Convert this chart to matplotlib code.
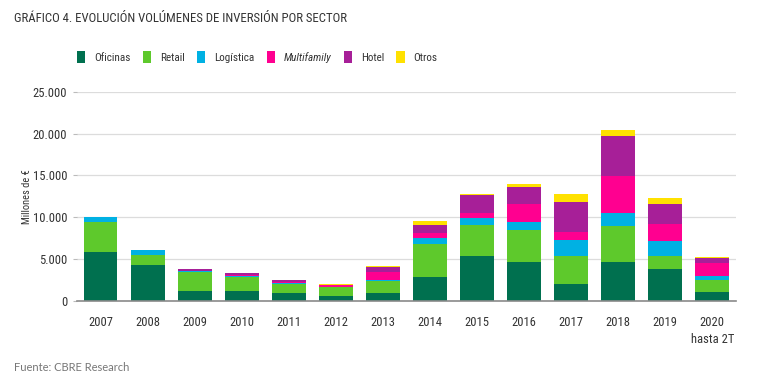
import matplotlib
matplotlib.use("Agg")
import matplotlib.pyplot as plt
from matplotlib.patches import Patch
from matplotlib.ticker import FuncFormatter
from matplotlib import font_manager as fm
import numpy as np

years = ["2007", "2008", "2009", "2010", "2011", "2012", "2013",
         "2014", "2015", "2016", "2017", "2018", "2019", "2020\nhasta 2T"]
oficinas    = [5820, 4230, 1120, 1120,  880,  600,  880, 2830, 5380, 4630, 1950, 4630, 3790, 1040]
retail      = [3630, 1200, 2310, 1670, 1080, 1000, 1430, 3990, 3710, 3870, 3390, 4350, 1590, 1430]
logistica   = [ 560,  640,  120,  200,  160,   80,  160,  720,  800,  960, 1910, 1550, 1720,  520]
multifamily = [   0,    0,   50,   60,   60,  150, 1000,  520,  560, 2150,  960, 4390, 2110, 1560]
hotel       = [   0,    0,  150,  300,  300,  100,  560, 1040, 2230, 1950, 3590, 4820, 2350,  520]
otros       = [   0,    0,    0,    0,    0,  100,  120,  400,  120,  400, 1000,  680,  760,  120]

series = [
    ("Oficinas", oficinas, "#00704f"),
    ("Retail", retail, "#5ec92c"),
    ("Logística", logistica, "#00b1e3"),
    ("Multifamily", multifamily, "#ff0090"),
    ("Hotel", hotel, "#a71f98"),
    ("Otros", otros, "#ffe100"),
]


def find_font(keys, style="normal"):
    files = [f.fname for f in fm.fontManager.ttflist]
    bad = ["bold", "light", "thin", "black", "medium", "semi", "extra"]
    for k in keys:
        for fn in sorted(files):
            low = fn.split("/")[-1].lower()
            if k.lower() in low:
                if any(b in low for b in bad):
                    continue
                if style == "normal" and "italic" in low:
                    continue
                if style == "italic" and "italic" not in low and "oblique" not in low:
                    continue
                return fn
    return None


cond_file = find_font(["RobotoCondensed-Regular", "RobotoCondensed", "NotoSans-Condensed",
                       "NotoSans_Condensed", "OpenSans_Condensed", "OpenSans-Condensed",
                       "LiberationSansNarrow", "DejaVuSansCondensed"])
cond_ifile = find_font(["RobotoCondensed-Italic", "RobotoCondensed", "NotoSans-CondensedItalic",
                        "NotoSans_Condensed", "OpenSans_Condensed", "LiberationSansNarrow",
                        "DejaVuSansCondensed"], style="italic")


def fp(size, italic=False):
    if italic and cond_ifile:
        return fm.FontProperties(fname=cond_ifile, size=size)
    if cond_file:
        p = fm.FontProperties(fname=cond_file, size=size)
        if italic:
            p.set_style("italic")
        return p
    return fm.FontProperties(family="Roboto", size=size, style="italic" if italic else "normal")


fig = plt.figure(figsize=(7.68, 3.81), dpi=100)
ax = fig.add_axes([0.1003, 0.2108, 0.8577, 0.5485])

x = np.arange(len(years))
bottom = np.zeros(len(years))
for name, vals, col in series:
    v = np.array(vals, dtype=float)
    ax.bar(x, v, bottom=bottom, width=0.72, color=col, linewidth=0, zorder=3)
    bottom += v

ax.set_xlim(-0.5, len(years) - 0.5)
ax.set_ylim(0, 25000)
ax.set_yticks(np.arange(0, 25001, 5000))
ax.yaxis.set_major_formatter(FuncFormatter(lambda v, p: f"{int(v):,}".replace(",", ".")))
ax.grid(axis="y", color="#dcdcdc", linewidth=0.9, zorder=0)
for s in ["top", "right", "left"]:
    ax.spines[s].set_visible(False)
ax.spines["bottom"].set_color("#8a8a8a")
ax.spines["bottom"].set_linewidth(1.2)
ax.spines["bottom"].set_zorder(4)
ax.tick_params(axis="y", length=3, color="#bbbbbb", pad=4, labelcolor="#333333")
ax.tick_params(axis="x", length=0, pad=11, labelcolor="#333333")
ax.set_xticks(x)
ax.set_xticklabels(years, linespacing=1.45)
for lab in ax.get_xticklabels() + ax.get_yticklabels():
    lab.set_fontproperties(fp(9))
    lab.set_multialignment("center")
ax.set_ylabel("Millones de €", fontproperties=fp(7.5), color="#333333")
ax.yaxis.set_label_coords(-0.068, 0.5)

fig.text(0.018, 0.952, "GRÁFICO 4. EVOLUCIÓN VOLÚMENES DE INVERSIÓN POR SECTOR",
         fontproperties=fp(9.2), color="#333333", va="center")
fig.text(0.018, 0.036, "Fuente: CBRE Research", fontsize=8, color="#777777",
         family=["Lato", "DejaVu Sans"], va="center")

handles = [Patch(facecolor=c, edgecolor="none") for _, _, c in series]
labels = [n for n, _, _ in series]
leg = fig.legend(handles, labels, loc="center", bbox_to_anchor=(0.335, 0.85), ncol=6,
                 frameon=False, handlelength=0.75, handleheight=1.2, handletextpad=0.8,
                 columnspacing=1.1, prop=fp(8))
for t in leg.get_texts():
    t.set_color("#333333")
    if t.get_text() == "Multifamily":
        t.set_fontproperties(fp(8, italic=True))

fig.savefig("out.png", dpi=100)
